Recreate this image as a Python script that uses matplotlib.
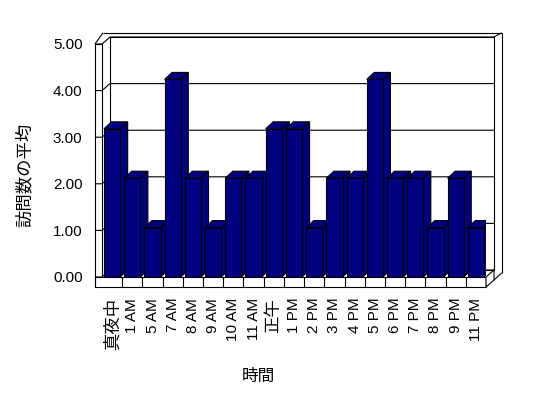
import matplotlib
matplotlib.use('Agg')
import matplotlib.pyplot as plt
from matplotlib.patches import Polygon, Rectangle

plt.rcParams['font.family'] = ['Liberation Sans', 'Noto Sans CJK JP']

# data
hours = ['真夜中', '1 AM', '5 AM', '7 AM', '8 AM', '9 AM', '10 AM', '11 AM', '正午',
         '1 PM', '2 PM', '3 PM', '4 PM', '5 PM', '6 PM', '7 PM', '8 PM', '9 PM', '11 PM']
avg_visits = [3.18, 2.12, 1.06, 4.24, 2.12, 1.06, 2.12, 2.12, 3.18,
              3.18, 1.06, 2.12, 2.12, 4.24, 2.12, 2.12, 1.06, 2.12, 1.06]
y_ticks = [0, 1, 2, 3, 4, 5]

NAVY = '#000080'
LW = 0.8

# fake 3D depth (in data units)
wall_dx, wall_dy = 0.396, 0.15   # back wall offset
bar_dx, bar_dy = 0.37, 0.15      # bar depth
side_w = 0.35                    # left wall thickness
floor_h = 0.215                  # floor slab height


def line(ax, xs, ys):
    ax.plot(xs, ys, color='black', lw=LW, clip_on=False, solid_capstyle='butt')


def draw_box(ax, n, ymax):
    """Excel style walls, floor and gridlines"""
    bx0, bx1 = wall_dx, n + wall_dx
    # back wall
    ax.add_patch(Rectangle((bx0, wall_dy), n, ymax, facecolor='white',
                           edgecolor='black', lw=LW, clip_on=False, zorder=0))
    # outer rim of the back wall
    top_o = ymax + 0.24
    right_o = n + 0.78
    line(ax, [0.05, right_o], [top_o, top_o])
    line(ax, [right_o, right_o], [top_o, 0.09])
    line(ax, [bx1, right_o], [ymax + wall_dy, top_o])
    # left wall
    line(ax, [-side_w, -side_w], [-floor_h, ymax])
    line(ax, [0, 0], [0, ymax])
    line(ax, [-side_w, 0], [ymax, ymax])
    line(ax, [-side_w, 0.05], [ymax, top_o])
    # gridlines + ticks
    for k in y_ticks:
        line(ax, [-side_w, 0, bx0, bx1], [k, k, k + wall_dy, k + wall_dy])
    # floor front face with category dividers
    ax.add_patch(Rectangle((-side_w, -floor_h), n + side_w, floor_h, facecolor='white',
                           edgecolor='black', lw=LW, clip_on=False, zorder=1))
    for i in range(1, n):
        line(ax, [i, i], [-floor_h, 0])
    # floor right side
    ax.add_patch(Polygon([(n, 0), (n, -floor_h), (n + wall_dx, -floor_h + wall_dy),
                          (n + wall_dx, wall_dy)], closed=True, facecolor='white',
                         edgecolor='black', lw=LW, clip_on=False, zorder=1))
    line(ax, [n + wall_dx, right_o], [-floor_h + wall_dy, 0.09])


fig = plt.figure(figsize=(5.48, 3.98), dpi=100)
ax = fig.add_axes([102 / 548, 1 - 277 / 398, 384 / 548, 233 / 398])
ax.set_xlim(0, len(hours))
ax.set_ylim(0, 5)
for s in ax.spines.values():
    s.set_visible(False)

draw_box(ax, len(hours), 5)

# bars: front face, side, top
width = 0.8
for i, v in enumerate(avg_visits):
    x0 = i + 0.5 - width / 2
    x1 = x0 + width
    side = Polygon([(x1, 0), (x1, v), (x1 + bar_dx, v + bar_dy), (x1 + bar_dx, bar_dy)],
                   closed=True, facecolor=NAVY, edgecolor='black', lw=LW, zorder=3 + i)
    top = Polygon([(x0, v), (x1, v), (x1 + bar_dx, v + bar_dy), (x0 + bar_dx, v + bar_dy)],
                  closed=True, facecolor=NAVY, edgecolor='black', lw=LW, zorder=3 + i)
    ax.add_patch(side)
    ax.add_patch(top)
    ax.bar(i + 0.5, v, width=width, color=NAVY, edgecolor='black', lw=LW, zorder=3.5 + i)

# ticks
ax.set_yticks(y_ticks)
ax.set_yticklabels([f'{t:.2f}' for t in y_ticks], fontsize=11)
ax.tick_params(axis='y', length=0, pad=14)
ax.set_xticks([i + 0.5 for i in range(len(hours))])
ax.set_xticklabels(hours, rotation=90, fontsize=11)
ax.tick_params(axis='x', length=0, pad=15)
for lbl in ax.get_xticklabels():
    if not lbl.get_text()[0].isdigit():
        lbl.set_fontsize(12.5)

fig.text(24 / 548, 1 - 175 / 398, '訪問数の平均', rotation=90, ha='center', va='center', fontsize=12.5)
fig.text(258 / 548, 1 - 376 / 398, '時間', ha='center', va='center', fontsize=12)

fig.savefig('out.png', dpi=100)
